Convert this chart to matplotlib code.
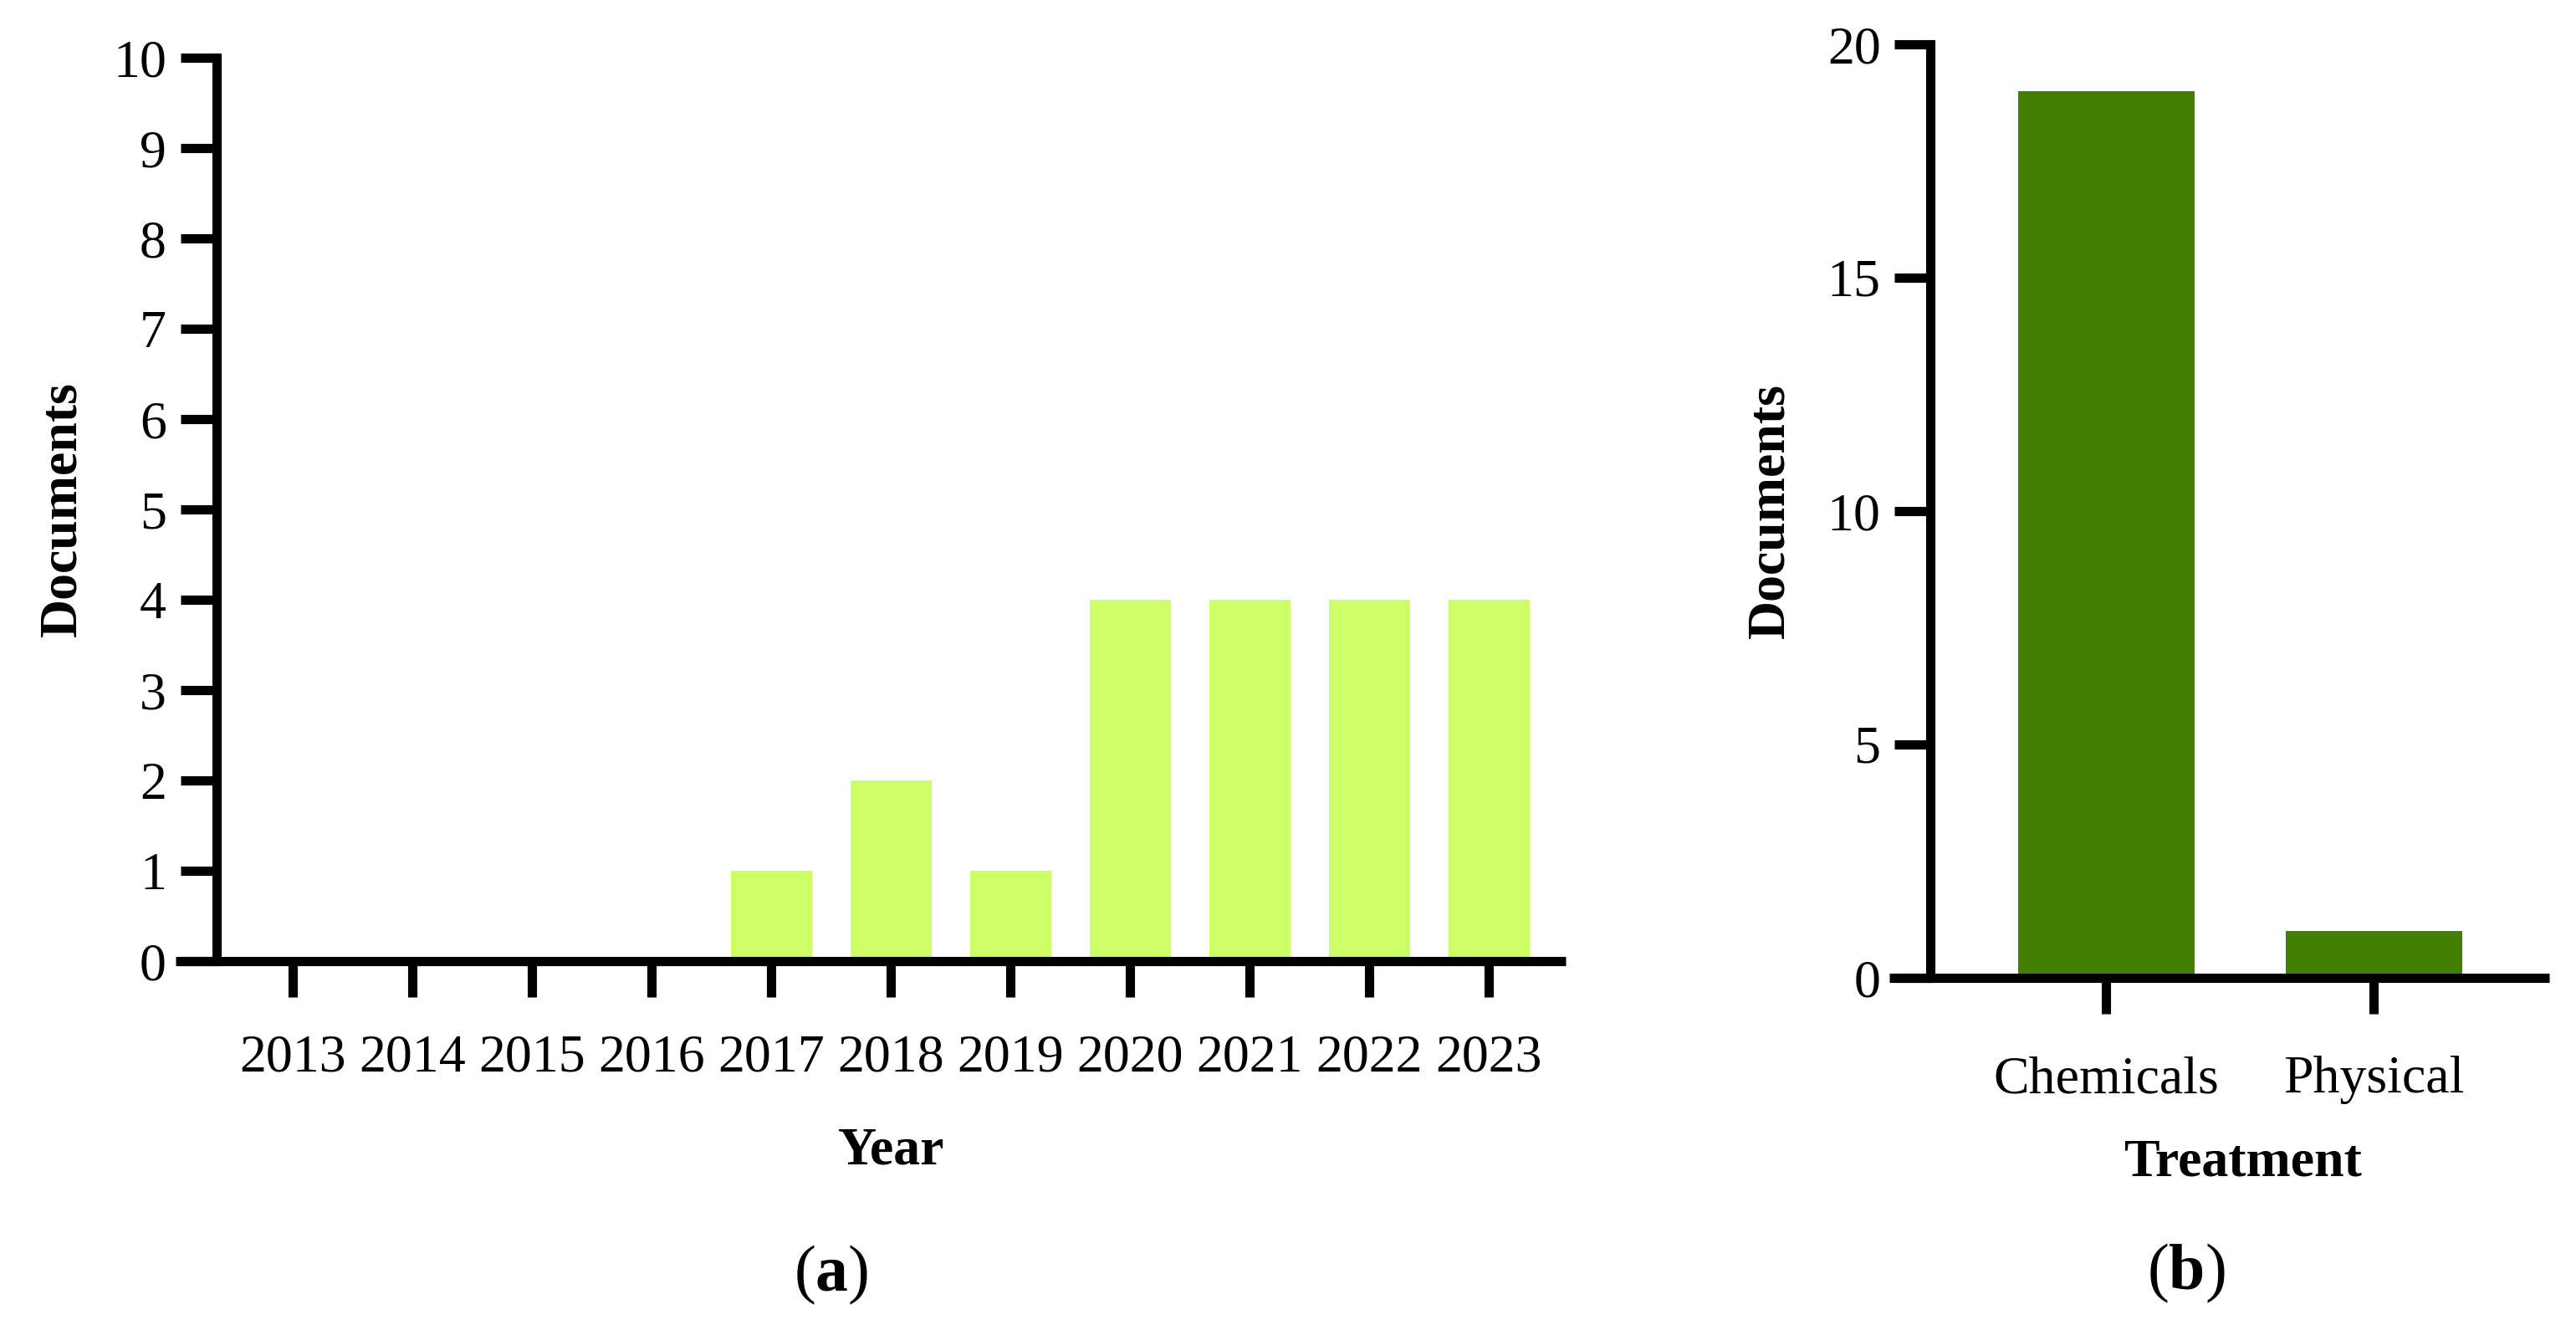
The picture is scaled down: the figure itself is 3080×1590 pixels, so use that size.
import numpy as np
import matplotlib
matplotlib.use("Agg")
import matplotlib.pyplot as plt

# data
years = ["2013", "2014", "2015", "2016", "2017", "2018", "2019", "2020", "2021", "2022", "2023"]
docs_year = [0, 0, 0, 0, 1, 2, 1, 4, 4, 4, 4]
treatments = ["Chemicals", "Physical"]
docs_treat = [19, 1]

plt.rcParams['font.family'] = ['Liberation Serif', 'DejaVu Serif']
plt.rcParams['mathtext.fontset'] = 'custom'
plt.rcParams['mathtext.rm'] = 'Liberation Serif'
plt.rcParams['mathtext.bf'] = 'Liberation Serif:bold'

W, H = 3080, 1590
fig = plt.figure(figsize=(15.4, 7.95), dpi=200)

LW = 4.0
FS = 23


def style(ax, spine_x, xpad):
    for s in ['top', 'right']:
        ax.spines[s].set_visible(False)
    ax.spines['left'].set_position(('data', spine_x))
    ax.spines['left'].set_linewidth(LW)
    ax.spines['bottom'].set_linewidth(LW)
    ax.spines['left'].set_capstyle('projecting')
    ax.spines['bottom'].set_capstyle('butt')
    ax.tick_params(axis='both', width=LW, length=15.5, labelsize=FS, direction='out')
    ax.tick_params(axis='y', pad=6)
    ax.tick_params(axis='x', pad=xpad)


def px_axes(x0, x1, y_top, y_bot):
    return fig.add_axes([x0 / W, 1 - y_bot / H, (x1 - x0) / W, (y_bot - y_top) / H])


# panel (a)
ax1 = px_axes(210, 1872, 69, 1149)
x1 = np.arange(len(years))
ax1.bar(x1, docs_year, width=0.68, color='#CCFF66', zorder=1)
ax1.set_xlim(-0.98, 10.64)
ax1.set_ylim(0, 10)
ax1.set_yticks(range(0, 11))
ax1.set_xticks(x1)
ax1.set_xticklabels(years)
style(ax1, -0.64, 16)
ax1.set_ylabel('Documents', fontsize=FS, fontweight='bold', va='center')
ax1.yaxis.set_label_coords((75 - 210) / 1662, 0.5)
ax1.set_xlabel('Year', fontsize=FS, fontweight='bold', va='center')
ax1.xaxis.set_label_coords((1066 - 210) / 1662, (1149 - 1377) / 1080)
fig.text(994 / W, 1 - 1524 / H, r'($\mathbf{a}$)', fontsize=28, ha='center', va='center')

# panel (b)
ax2 = px_axes(2259, 3048, 53, 1169)
x2 = np.arange(len(treatments))
ax2.bar(x2, docs_treat, width=0.66, color='#418002', zorder=1)
ax2.set_xlim(-0.81, 1.656)
ax2.set_ylim(0, 20)
ax2.set_yticks([0, 5, 10, 15, 20])
ax2.set_xticks(x2)
ax2.set_xticklabels(treatments)
style(ax2, -0.656, 18)
ax2.set_ylabel('Documents', fontsize=FS, fontweight='bold', va='center')
ax2.yaxis.set_label_coords((2117 - 2259) / 789, 0.5)
ax2.set_xlabel('Treatment', fontsize=FS, fontweight='bold', va='center')
ax2.xaxis.set_label_coords((2681 - 2259) / 789, (1169 - 1390) / 1116)
fig.text(2614 / W, 1 - 1522 / H, r'($\mathbf{b}$)', fontsize=28, ha='center', va='center')

fig.savefig('out.png', dpi=200, facecolor='white')
